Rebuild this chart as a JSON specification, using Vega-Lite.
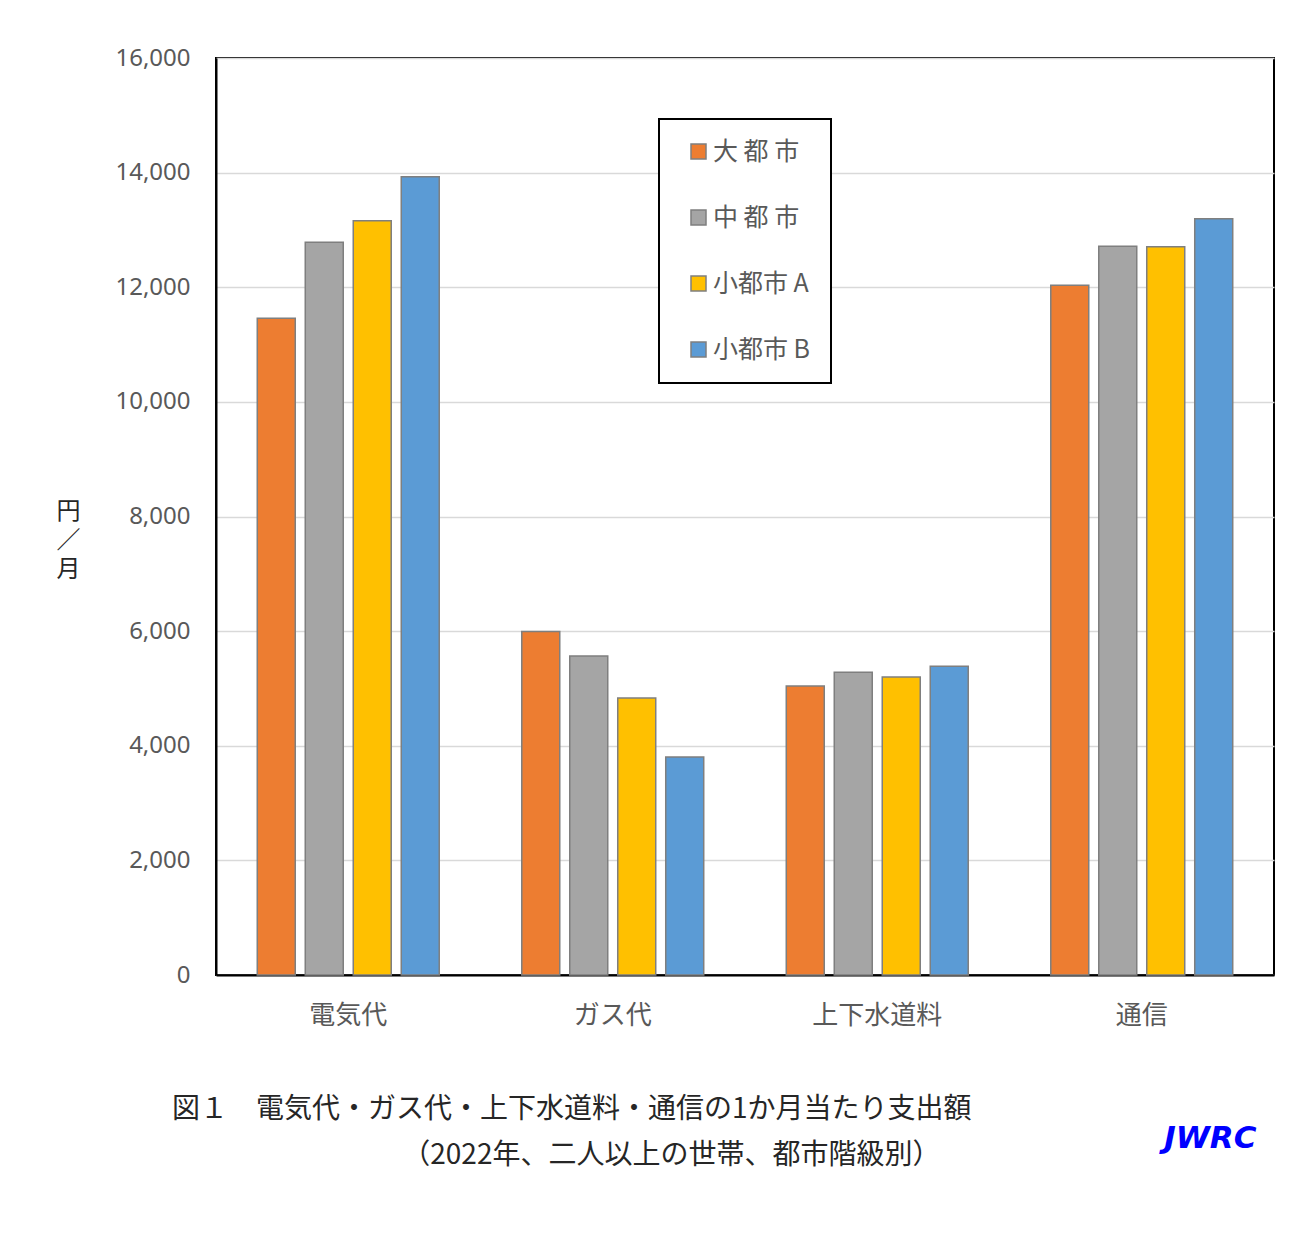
{
  "$schema": "https://vega.github.io/schema/vega-lite/v6.json",
  "width": 1058,
  "height": 917,
  "autosize": {"type": "none"},
  "padding": {"left": 216, "top": 58, "right": 22, "bottom": 260},
  "background": "white",
  "title": {
    "text": ["図１　電気代・ガス代・上下水道料・通信の1か月当たり支出額", "\u200b　　　　　　　　 （2022年、二人以上の世帯、都市階級別）"],
    "orient": "bottom",
    "anchor": "start",
    "frame": "group",
    "dx": -44,
    "offset": -57,
    "fontSize": 28,
    "font": "Noto Sans CJK JP",
    "fontWeight": "normal",
    "color": "#262626",
    "lineHeight": 46
  },
  "data": {
    "values": [
      {"item": "電気代", "city": "大都市", "value": 11460},
      {"item": "電気代", "city": "中都市", "value": 12787},
      {"item": "電気代", "city": "小都市A", "value": 13159},
      {"item": "電気代", "city": "小都市B", "value": 13927},
      {"item": "ガス代", "city": "大都市", "value": 5995},
      {"item": "ガス代", "city": "中都市", "value": 5567},
      {"item": "ガス代", "city": "小都市A", "value": 4834},
      {"item": "ガス代", "city": "小都市B", "value": 3805},
      {"item": "上下水道料", "city": "大都市", "value": 5044},
      {"item": "上下水道料", "city": "中都市", "value": 5283},
      {"item": "上下水道料", "city": "小都市A", "value": 5201},
      {"item": "上下水道料", "city": "小都市B", "value": 5387},
      {"item": "通信", "city": "大都市", "value": 12037},
      {"item": "通信", "city": "中都市", "value": 12717},
      {"item": "通信", "city": "小都市A", "value": 12705},
      {"item": "通信", "city": "小都市B", "value": 13194}
    ]
  },
  "mark": {"type": "bar", "stroke": "#7f7f7f", "strokeWidth": 1.5},
  "encoding": {
    "x": {
      "field": "item",
      "type": "nominal",
      "sort": ["電気代", "ガス代", "上下水道料", "通信"],
      "scale": {"paddingInner": 0.312, "paddingOuter": 0.156},
      "axis": {
        "title": "JWRC",
        "titleFont": "DejaVu Sans",
        "titleFontSize": 31,
        "titleFontStyle": "italic",
        "titleFontWeight": "bold",
        "titleColor": "#0000FF",
        "titleAnchor": "end",
        "titleAlign": "right",
        "titleBaseline": "middle",
        "titleX": 1040,
        "titleY": 163,
        "labelAngle": 0,
        "labelFont": "Noto Sans CJK JP",
        "labelFontSize": 26,
        "labelColor": "#595959",
        "labelPadding": 27,
        "ticks": false,
        "domainColor": "#000000",
        "domainWidth": 2,
        "grid": false
      }
    },
    "xOffset": {
      "field": "city",
      "sort": ["大都市", "中都市", "小都市A", "小都市B"],
      "scale": {"paddingInner": 0.2083, "paddingOuter": 0}
    },
    "y": {
      "field": "value",
      "type": "quantitative",
      "scale": {"domain": [0, 16000], "nice": false},
      "axis": {
        "values": [0, 2000, 4000, 6000, 8000, 10000, 12000, 14000, 16000],
        "format": ",d",
        "title": ["円", "／", "月"],
        "titleAngle": 0,
        "titleFont": "Noto Sans CJK JP",
        "titleFontSize": 24,
        "titleFontWeight": "normal",
        "titleColor": "#262626",
        "titleLineHeight": 29,
        "titleAlign": "center",
        "titleBaseline": "middle",
        "titleX": -148,
        "titleY": 453,
        "labelFont": "Noto Sans",
        "labelFontSize": 24,
        "labelColor": "#595959",
        "labelPadding": 26,
        "ticks": false,
        "domainColor": "#000000",
        "domainWidth": 2,
        "gridColor": "#d9d9d9",
        "gridWidth": 1.5
      }
    },
    "color": {
      "field": "city",
      "type": "nominal",
      "sort": ["大都市", "中都市", "小都市A", "小都市B"],
      "scale": {
        "domain": ["大都市", "中都市", "小都市A", "小都市B"],
        "range": ["#ED7D31", "#A5A5A5", "#FFC000", "#5B9BD5"]
      },
      "legend": {
        "title": null,
        "orient": "none",
        "legendX": 443,
        "legendY": 61,
        "labelExpr": "datum.label == '大都市' ? '大 都 市' : datum.label == '中都市' ? '中 都 市' : datum.label == '小都市A' ? '小都市 A' : '小都市 B'",
        "labelFont": "Noto Sans CJK JP",
        "labelFontSize": 25,
        "labelColor": "#595959",
        "labelOffset": 2,
        "symbolType": "square",
        "symbolSize": 225,
        "symbolStrokeColor": "#7f7f7f",
        "symbolStrokeWidth": 1.5,
        "symbolOpacity": 1,
        "symbolOffset": 7,
        "rowPadding": 40,
        "padding": 20,
        "strokeColor": "#000000",
        "fillColor": "#ffffff"
      }
    }
  },
  "config": {
    "view": {"stroke": "#000000", "strokeWidth": 2},
    "legend": {"strokeWidth": 2}
  }
}
